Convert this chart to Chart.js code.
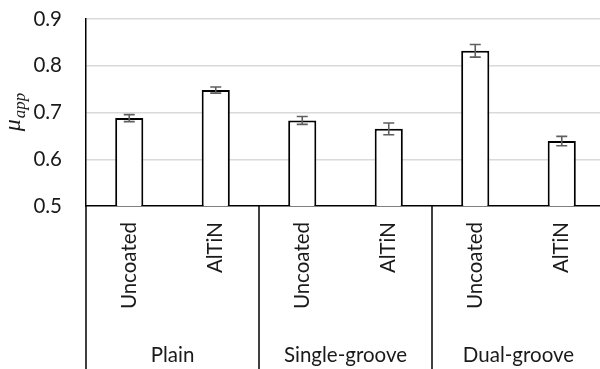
<!DOCTYPE html>
<html>
<head>
<meta charset="utf-8">
<script src="https://cdn.jsdelivr.net/npm/chart.js@4"></script>
<style>
  html, body { margin: 0; padding: 0; background: #fff; overflow: hidden; width: 600px; height: 369px; }
  #wrap { position: relative; width: 605px; height: 369px; }
</style>
</head>
<body>
<div id="wrap"><canvas id="c"></canvas></div>
<script>
// ---- data ----
const coatings = ["Uncoated", "AlTiN", "Uncoated", "AlTiN", "Uncoated", "AlTiN"];
const groups = ["Plain", "Single-groove", "Dual-groove"];
const muValues = [0.688, 0.748, 0.683, 0.665, 0.832, 0.639];
const muErrors = [0.0075, 0.0065, 0.0085, 0.0125, 0.0135, 0.0100];
const yTicks = [0.5, 0.6, 0.7, 0.8, 0.9];

const FONT = "Lato";
const FSIZE = 20.5;
const TEXT = "#1a1a1a";

const errorBars = {
  id: "errorBars",
  afterDatasetsDraw(chart) {
    const ctx = chart.ctx;
    const meta = chart.getDatasetMeta(0);
    const ys = chart.scales.y;
    ctx.save();
    ctx.strokeStyle = "#5f5f5f";
    ctx.lineWidth = 1.6;
    meta.data.forEach((bar, i) => {
      const v = muValues[i], e = muErrors[i];
      const y1 = ys.getPixelForValue(v + e), y2 = ys.getPixelForValue(v - e);
      const x = bar.x, cap = 5.5;
      ctx.beginPath();
      ctx.moveTo(x, y1); ctx.lineTo(x, y2);
      ctx.moveTo(x - cap, y1); ctx.lineTo(x + cap, y1);
      ctx.moveTo(x - cap, y2); ctx.lineTo(x + cap, y2);
      ctx.stroke();
    });
    ctx.restore();
  }
};

const groupLines = {
  id: "groupLines",
  afterDraw(chart) {
    const ctx = chart.ctx;
    const xs = chart.scales.x;
    const ca = chart.chartArea;
    const w = xs.getPixelForValue(1) - xs.getPixelForValue(0);
    ctx.save();
    ctx.strokeStyle = "#000";
    ctx.lineWidth = 1.5;
    for (let k = 0; k <= groups.length; k++) {
      const x = xs.getPixelForValue(2 * k) - w / 2;
      ctx.beginPath();
      ctx.moveTo(x, ca.bottom);
      ctx.lineTo(x, chart.height);
      ctx.stroke();
    }
    // y title: mu_app
    const cy = (ca.top + ca.bottom) / 2;
    ctx.translate(0, cy);
    ctx.rotate(-Math.PI / 2);
    ctx.fillStyle = TEXT;
    ctx.textBaseline = "alphabetic";
    ctx.textAlign = "left";
    const f1 = "italic 24px 'Liberation Serif'";
    const f2 = "italic 17px 'Liberation Serif'";
    ctx.font = f1;
    const w1 = ctx.measureText("\u03BC").width;
    ctx.font = f2;
    const w2 = ctx.measureText("app").width;
    const start = -(w1 + w2) / 2;
    ctx.font = f1;
    ctx.fillText("\u03BC", start, 20);
    ctx.font = f2;
    ctx.fillText("app", start + w1 + 1, 25);
    ctx.restore();
  }
};

new Chart(document.getElementById("c"), {
  type: "bar",
  data: {
    labels: coatings,
    datasets: [{
      data: muValues,
      backgroundColor: "#ffffff",
      borderColor: "#000000",
      borderWidth: 2,
      categoryPercentage: 1.0,
      barPercentage: 0.325
    }]
  },
  plugins: [errorBars, groupLines],
  options: {
    responsive: true,
    maintainAspectRatio: false,
    animation: false,
    layout: { padding: { top: 19, left: 0, right: 0, bottom: 0 } },
    plugins: { legend: { display: false }, tooltip: { enabled: false } },
    scales: {
      y: {
        min: 0.5, max: 0.9,
        afterBuildTicks(s) { s.ticks = yTicks.map(v => ({ value: v })); },
        afterFit(s) { s.width = 86; },
        ticks: {
          font: { family: FONT, size: FSIZE },
          color: TEXT,
          padding: 2,
          callback: v => v.toFixed(1)
        },
        grid: {
          drawTicks: true,
          tickLength: 22,
          tickColor: "rgba(0,0,0,0)",
          color: ctx => (ctx.tick && ctx.tick.value === 0.5) ? "rgba(0,0,0,0)" : "#d9d9d9",
          lineWidth: 1.4
        },
        border: { display: true, color: "#000", width: 1.5 }
      },
      x: {
        weight: 0,
        afterFit(s) { s.height = 125; },
        grid: { display: false, drawTicks: false },
        border: { display: true, color: "#000", width: 1.5 },
        ticks: {
          font: { family: FONT, size: FSIZE },
          color: TEXT,
          minRotation: 90, maxRotation: 90,
          padding: 16,
          autoSkip: false
        }
      },
      x2: {
        type: "category",
        position: "bottom",
        weight: 1,
        labels: groups,
        offset: true,
        afterFit(s) { s.height = 38; },
        grid: { display: false, drawTicks: false },
        border: { display: false },
        ticks: {
          font: { family: FONT, size: FSIZE },
          color: TEXT,
          padding: 12,
          autoSkip: false
        }
      }
    }
  }
});
</script>
</body>
</html>
